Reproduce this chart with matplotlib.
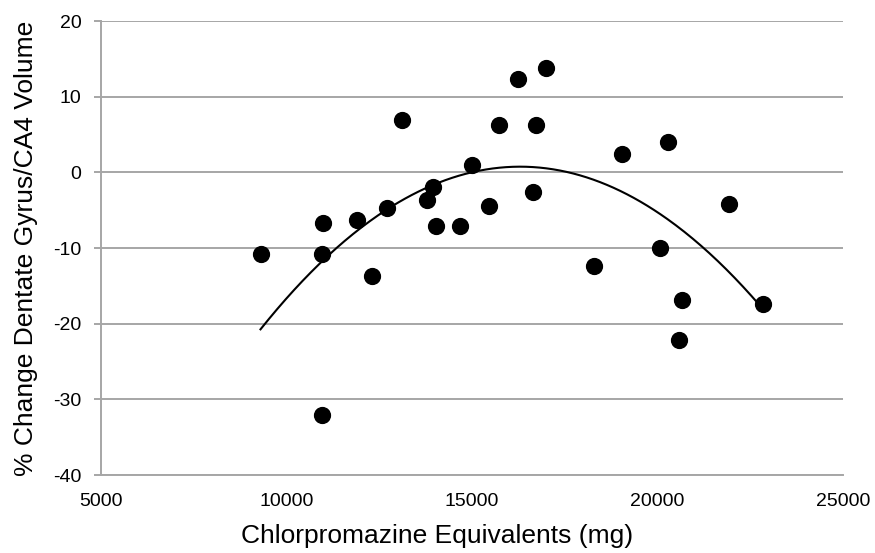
import numpy as np
import matplotlib.pyplot as plt

plt.rcParams['font.family'] = ['Liberation Sans', 'DejaVu Sans']
plt.rcParams['axes.unicode_minus'] = False

# Chlorpromazine equivalents (mg) and % change in dentate gyrus/CA4 volume
cpz = [13120, 15740, 15010, 13940, 13800, 12700, 11890, 10990, 14020, 14680,
       15450, 9300, 10960, 12300, 10960, 16240, 17000, 16720, 16650, 19050,
       20290, 21930, 20060, 18300, 20660, 20570, 22850]
change = [6.9, 6.3, 1.0, -1.9, -3.6, -4.7, -6.3, -6.7, -7.1, -7.1,
          -4.4, -10.8, -10.8, -13.7, -32.1, 12.3, 13.8, 6.3, -2.6, 2.4,
          4.0, -4.2, -10.0, -12.4, -16.9, -22.2, -17.4]

x = np.array(cpz, dtype=float)
y = np.array(change, dtype=float)

# second order polynomial trendline
coef = np.polyfit(x, y, 2)
xs = np.linspace(x.min(), x.max(), 300)
ys = np.polyval(coef, xs)

fig = plt.figure(figsize=(8.75, 5.53), dpi=100)
ax = fig.add_axes([0.1154, 0.141, 0.848, 0.821])

ax.set_axisbelow(True)
ax.yaxis.grid(True, color='#a6a6a6', linewidth=1.4)
ax.scatter(x, y, s=130, color='black', zorder=3)
ax.plot(xs, ys, color='black', linewidth=1.5, zorder=2)

ax.set_xlim(5000, 25000)
ax.set_ylim(-40, 20)
ax.set_xticks(range(5000, 25001, 5000))
ax.set_yticks(range(-40, 21, 10))
ax.tick_params(axis='x', length=0, labelsize=14, pad=13)
ax.tick_params(axis='y', length=5, width=1.4, color='#a6a6a6', labelsize=14, pad=9)

for side in ['top', 'right']:
    ax.spines[side].set_visible(False)
for side in ['left', 'bottom']:
    ax.spines[side].set_color('#a6a6a6')
    ax.spines[side].set_linewidth(1.4)

ax.set_xlabel('Chlorpromazine Equivalents (mg)', fontsize=19, labelpad=10, x=0.453)
ax.set_ylabel('% Change Dentate Gyrus/CA4 Volume', fontsize=19, labelpad=11)

fig.savefig('out.png', dpi=100)
